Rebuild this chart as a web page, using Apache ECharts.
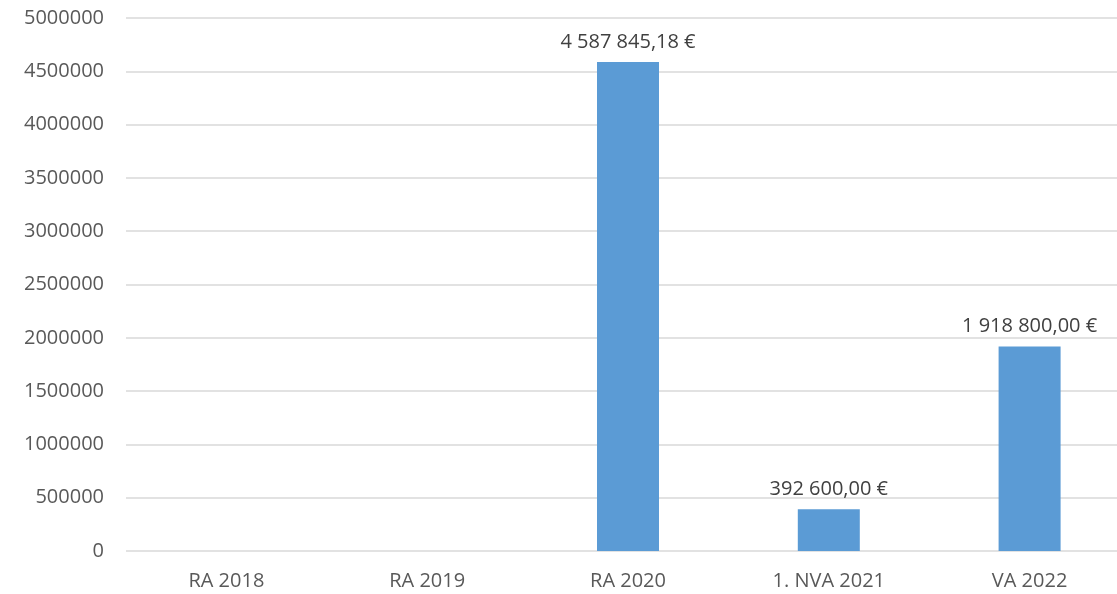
<!DOCTYPE html>
<html><head><meta charset="utf-8">
<script src="https://cdn.jsdelivr.net/npm/echarts@6/dist/echarts.min.js"></script>
<style>html,body{margin:0;padding:0;background:#fff}#c{width:1117px;height:594px}</style>
</head><body><div id="c"></div>
<script>
const categories = ['RA 2018', 'RA 2019', 'RA 2020', '1. NVA 2021', 'VA 2022'];
const values = [0, 0, 4587845.18, 392600.00, 1918800.00];

function fmt(v) {
  const parts = v.toFixed(2).split('.');
  const intPart = parts[0].replace(/\B(?=(\d{3})+(?!\d))/g, ' ');
  return intPart + ',' + parts[1] + ' €';
}

const chart = echarts.init(document.getElementById('c'));
chart.setOption({
  animation: false,
  textStyle: { fontFamily: 'Open Sans, sans-serif' },
  grid: { left: 126, right: -13, top: 18, bottom: 43, containLabel: false, outerBoundsMode: 'none' },
  xAxis: {
    type: 'category', data: categories,
    axisLine: { show: false }, axisTick: { show: false },
    axisLabel: { color: '#595959', fontSize: 20, margin: 20 }
  },
  yAxis: {
    type: 'value', min: 0, max: 5000000, interval: 500000,
    axisLine: { show: false }, axisTick: { show: false },
    axisLabel: { color: '#595959', fontSize: 20, margin: 22, formatter: v => String(v) },
    splitLine: { lineStyle: { color: '#d9d9d9', width: 1.5 } }
  },
  series: [{
    type: 'bar', data: values, barWidth: 62,
    itemStyle: { color: '#5B9BD5' },
    label: {
      show: true, position: 'top', distance: 10, color: '#404040', fontSize: 20,
      formatter: p => p.value ? fmt(p.value) : ''
    }
  }]
});
</script></body></html>
